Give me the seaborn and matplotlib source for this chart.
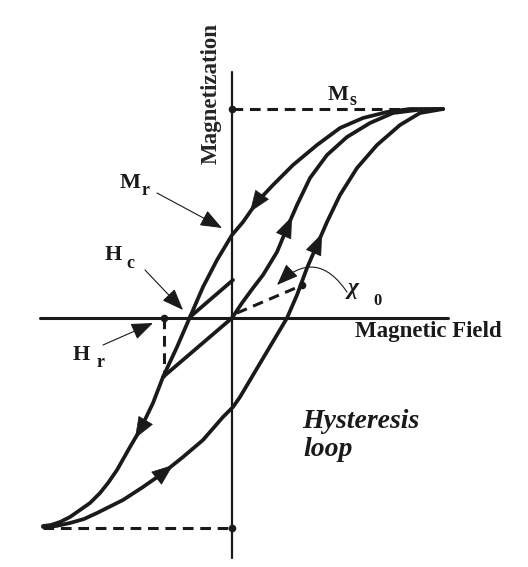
import matplotlib
matplotlib.use("Agg")
import matplotlib.pyplot as plt
import seaborn as sns

# ---- data (H = field, M = magnetization, arbitrary units) ----
# descending branch of the major loop, +Ms -> -Ms
desc_H = [211, 178, 155, 131, 108, 85, 61, 41, 25, 11, 0, -15, -29, -42, -55,
          -69, -79, -92, -102, -115, -124, -132, -142, -152, -162, -172, -181, -189]
desc_M = [209, 209, 206, 200, 190, 173, 153, 133, 116, 96, 83, 58, 31, 1, -29,
          -59, -85, -112, -129, -152, -165, -175, -185, -192, -199, -204, -207, -208]
# ascending branch of the major loop, -Ms -> +Ms
asc_H = [-189, -176, -162, -148, -135, -109, -89, -69, -49, -29, -9, 1, 8, 30, 55, 65, 75,
         85, 95, 108, 125, 145, 168, 188, 211]
asc_M = [-209, -208, -205, -201, -195, -182, -169, -155, -139, -122, -99, -89, -79, -42, 0,
         23, 50, 73, 96, 123, 150, 173, 193, 205, 209]
# initial (virgin) magnetization curve
virgin_H = [0, 10, 21, 31, 45, 55, 65, 78, 95, 115, 138, 161, 185, 211]
virgin_M = [0, 15, 30, 43, 66, 90, 113, 140, 163, 181, 195, 205, 208, 209]
# minor loop chords
minor1_H = [-69, 0]
minor1_M = [-59, 0]
minor2_H = [-42, 1]
minor2_M = [1, 38]

Ms, Hr = 209, -68
dots_H = [0, 0, Hr, 70]
dots_M = [Ms, -210, 0, 33]
chi0_H = [5, 66]
chi0_M = [5, 31]

# (curve, index) where a direction arrow sits on the loop
arrow_marks = [("desc", 8), ("desc", 17), ("asc", 7), ("asc", 17), ("virgin", 5)]

sns.set_theme(style="white")
plt.rcParams['font.family'] = ['Liberation Serif', 'DejaVu Serif']

fig = plt.figure(figsize=(5.28, 5.67), dpi=100)
ax = fig.add_axes([0, 0, 1, 1])
ax.set_xlim(-232, 296)
ax.set_ylim(-249, 318)
ax.axis('off')

line = dict(sort=False, estimator=None, color='k', ax=ax)
# axes of the diagram
sns.lineplot(x=[0, 0], y=[246, -240], lw=1.6, **line)
sns.lineplot(x=[-192, 216], y=[0, 0], lw=2.2, **line)

curves = {"desc": (desc_H, desc_M), "asc": (asc_H, asc_M), "virgin": (virgin_H, virgin_M)}
for h, m in curves.values():
    sns.lineplot(x=h, y=m, lw=2.7, **line)
for h, m in [(minor1_H, minor1_M), (minor2_H, minor2_M)]:
    sns.lineplot(x=h, y=m, lw=2.7, **line)

# dashed guides
dash = dict(color='k', lw=2.2, dashes=(3.5, 2.2))
ax.plot([0, desc_H[0]], [Ms, Ms], **dash)
ax.plot([asc_H[0], 0], [-210, -210], **dash)
ax.plot([Hr, Hr], [0, -59], **dash)
ax.plot(chi0_H, chi0_M, **dash)
sns.scatterplot(x=dots_H, y=dots_M, color='k', s=30, linewidth=0, ax=ax, zorder=5)

# direction arrows on the loop
for name, i in arrow_marks:
    h, m = curves[name]
    tip = ((h[i] + h[i + 1]) / 2, (m[i] + m[i + 1]) / 2)
    ax.annotate('', xy=tip, xytext=(h[i], m[i]),
                arrowprops=dict(arrowstyle='-|>,head_length=0.9,head_width=0.35',
                                color='k', lw=0.5, mutation_scale=16,
                                shrinkA=0, shrinkB=0))

# pointer arrows
thin = dict(arrowstyle='-|>,head_length=0.9,head_width=0.35', color='k',
            lw=0.8, mutation_scale=15, shrinkA=0, shrinkB=0)
ax.annotate('', xy=(-10, 90), xytext=(-75, 125), arrowprops=thin)
ax.annotate('', xy=(-49, 8), xytext=(-87, 48), arrowprops=thin)
ax.annotate('', xy=(-79, -5), xytext=(-129, -27), arrowprops=thin)
ax.annotate('', xy=(45, 33), xytext=(115, 26),
            arrowprops=dict(thin, connectionstyle='arc3,rad=0.6'))

# labels
lab = dict(fontweight='bold', va='baseline', ha='left', color='k')
ax.text(-21, 224, 'Magnetization', rotation=90, fontsize=16.5,
        fontweight='bold', ha='center', va='center')
ax.text(123, -19, 'Magnetic Field', fontsize=16.5, **lab)
ax.text(96, 218, 'M', fontsize=16, **lab)
ax.text(118, 213, 's', fontsize=13, **lab)
ax.text(-112, 130, 'M', fontsize=16, **lab)
ax.text(-90, 123, 'r', fontsize=13, **lab)
ax.text(-127, 58, 'H', fontsize=16, **lab)
ax.text(-106, 50, 'c', fontsize=13, **lab)
ax.text(-159, -42, 'H', fontsize=16, **lab)
ax.text(-135, -49, 'r', fontsize=13, **lab)
ax.text(116, 24, 'χ', fontsize=17, fontstyle='italic', **lab)
ax.text(141, 13, '0', fontsize=12, **lab)
ax.text(70, -110, 'Hysteresis', fontsize=20, fontstyle='italic', **lab)
ax.text(71, -138, 'loop', fontsize=20, fontstyle='italic', **lab)

fig.savefig('out.png', dpi=100)
